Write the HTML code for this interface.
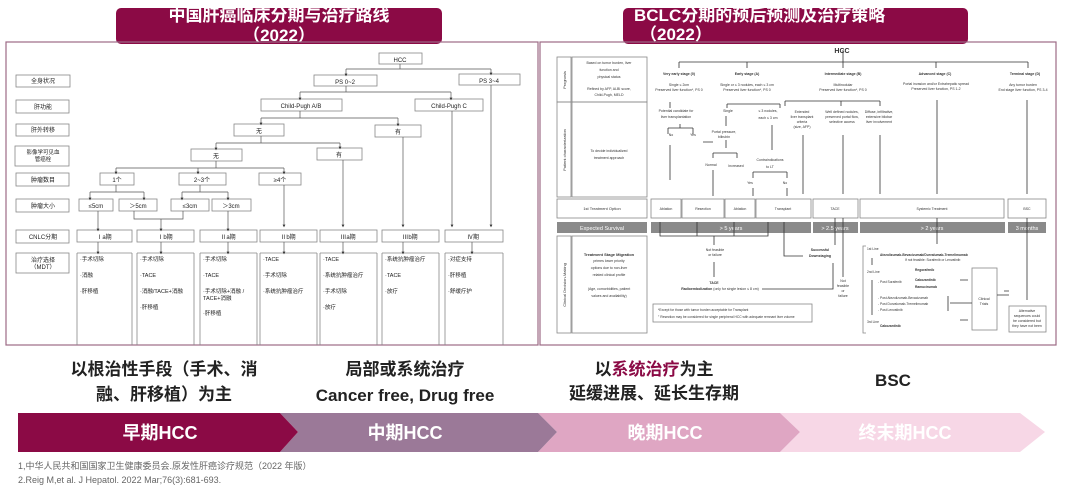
<!DOCTYPE html>
<html><head><meta charset="utf-8"><style>
html,body{margin:0;padding:0;background:#fff;}
svg{display:block;font-family:"Liberation Sans","Noto Sans CJK SC",sans-serif;}
</style></head><body>
<svg width="1080" height="490" viewBox="0 0 1080 490" xmlns="http://www.w3.org/2000/svg">
<defs>
<marker id="a" markerWidth="4" markerHeight="4" refX="2" refY="2" orient="auto"><path d="M0,0 L4,2 L0,4z" fill="#333"/></marker>
</defs>
<rect width="1080" height="490" fill="#fff"/>
<!-- title bars -->
<rect x="116" y="8" width="326" height="36" rx="5" fill="#8b0a45"/>
<text x="279" y="21" font-size="17" font-weight="bold" fill="#fff" text-anchor="middle">中国肝癌临床分期与治疗路线</text>
<text x="279" y="41" font-size="17" font-weight="bold" fill="#fff" text-anchor="middle">（2022）</text>
<rect x="623" y="8" width="345" height="36" rx="5" fill="#8b0a45"/>
<text x="634" y="21" font-size="17" font-weight="bold" fill="#fff">BCLC分期的预后预测及治疗策略</text>
<text x="640" y="40" font-size="17" font-weight="bold" fill="#fff">（2022）</text>
<!-- panels -->
<rect x="6" y="42" width="532" height="303" fill="none" stroke="#9c6a86" stroke-width="1.2"/>
<rect x="540" y="42" width="516" height="303" fill="none" stroke="#9c6a86" stroke-width="1.2"/>

<g font-size="6" fill="#222" stroke="none">
<g fill="none" stroke="#888" stroke-width="0.8">
<rect x="16" y="75" width="54" height="12"/><rect x="16" y="100" width="53" height="13"/>
<rect x="16" y="124" width="53" height="12"/><rect x="15" y="146" width="54" height="20"/>
<rect x="16" y="173" width="53" height="13"/><rect x="16" y="199" width="53" height="13"/>
<rect x="16" y="230" width="53" height="13"/><rect x="16" y="253" width="53" height="20"/>
</g>
<text x="43" y="83" text-anchor="middle">全身状况</text>
<text x="43" y="109" text-anchor="middle">肝功能</text>
<text x="43" y="132" text-anchor="middle">肝外转移</text>
<text x="43" y="154" text-anchor="middle" font-size="5.5">影像学可见血</text>
<text x="43" y="161" text-anchor="middle" font-size="5.5">管癌栓</text>
<text x="43" y="182" text-anchor="middle">肿瘤数目</text>
<text x="43" y="208" text-anchor="middle">肿瘤大小</text>
<text x="43" y="239" text-anchor="middle">CNLC分期</text>
<text x="43" y="262" text-anchor="middle">治疗选择</text>
<text x="43" y="269" text-anchor="middle">（MDT）</text>

<g fill="none" stroke="#888" stroke-width="0.8">
<rect x="379" y="53" width="43" height="11"/>
<rect x="314" y="75" width="63" height="11"/><rect x="459" y="74" width="61" height="11"/>
<rect x="261" y="99" width="81" height="12"/><rect x="415" y="99" width="68" height="12"/>
<rect x="234" y="124" width="50" height="12"/><rect x="375" y="125" width="46" height="12"/>
<rect x="191" y="149" width="51" height="12"/><rect x="317" y="148" width="45" height="12"/>
<rect x="100" y="173" width="34" height="12"/><rect x="179" y="173" width="47" height="12"/><rect x="259" y="173" width="42" height="12"/>
<rect x="79" y="199" width="34" height="12"/><rect x="119" y="199" width="38" height="12"/><rect x="171" y="199" width="38" height="12"/><rect x="212" y="199" width="39" height="12"/>
<rect x="77" y="230" width="55" height="12"/><rect x="137" y="230" width="57" height="12"/><rect x="200" y="230" width="57" height="12"/><rect x="260" y="230" width="57" height="12"/><rect x="320" y="230" width="57" height="12"/><rect x="382" y="230" width="57" height="12"/><rect x="445" y="230" width="58" height="12"/>
<path d="M77 253V345M132 253V345M137 253V345M194 253V345M200 253V345M257 253V345M260 253V345M317 253V345M320 253V345M377 253V345M382 253V345M439 253V345M445 253V345M503 253V345M77 253H132M137 253H194M200 253H257M260 253H317M320 253H377M382 253H439M445 253H503"/>
</g>
<text x="400" y="62" text-anchor="middle">HCC</text>
<text x="345" y="84" text-anchor="middle">PS 0~2</text>
<text x="489" y="83" text-anchor="middle">PS 3~4</text>
<text x="301" y="108" text-anchor="middle">Child-Pugh A/B</text>
<text x="449" y="108" text-anchor="middle">Child-Pugh C</text>
<text x="259" y="133" text-anchor="middle">无</text><text x="398" y="134" text-anchor="middle">有</text>
<text x="216" y="158" text-anchor="middle">无</text><text x="339" y="157" text-anchor="middle">有</text>
<text x="117" y="182" text-anchor="middle">1个</text><text x="202" y="182" text-anchor="middle">2~3个</text><text x="280" y="182" text-anchor="middle">≥4个</text>
<text x="96" y="208" text-anchor="middle">≤5cm</text><text x="138" y="208" text-anchor="middle">＞5cm</text><text x="190" y="208" text-anchor="middle">≤3cm</text><text x="231" y="208" text-anchor="middle">＞3cm</text>
<text x="104" y="239" text-anchor="middle">Ⅰa期</text><text x="165" y="239" text-anchor="middle">Ⅰb期</text><text x="228" y="239" text-anchor="middle">Ⅱa期</text><text x="288" y="239" text-anchor="middle">Ⅱb期</text><text x="348" y="239" text-anchor="middle">Ⅲa期</text><text x="410" y="239" text-anchor="middle">Ⅲb期</text><text x="473" y="239" text-anchor="middle">Ⅳ期</text>

<g font-size="5.5">
<text x="80" y="261">·手术切除</text><text x="80" y="277">·消融</text><text x="80" y="293">·肝移植</text>
<text x="140" y="261">·手术切除</text><text x="140" y="277">·TACE</text><text x="140" y="293">·消融/TACE+消融</text><text x="140" y="309">·肝移植</text>
<text x="203" y="261">·手术切除</text><text x="203" y="277">·TACE</text><text x="203" y="293">·手术切除+消融 /</text><text x="203" y="300">TACE+消融</text><text x="203" y="315">·肝移植</text>
<text x="263" y="261">·TACE</text><text x="263" y="277">·手术切除</text><text x="263" y="293">·系统抗肿瘤治疗</text>
<text x="323" y="261">·TACE</text><text x="323" y="277">·系统抗肿瘤治疗</text><text x="323" y="293">·手术切除</text><text x="323" y="309">·放疗</text>
<text x="385" y="261">·系统抗肿瘤治疗</text><text x="385" y="277">·TACE</text><text x="385" y="293">·放疗</text>
<text x="448" y="261">·对症支持</text><text x="448" y="277">·肝移植</text><text x="448" y="293">·舒缓疗护</text>
</g>
</g>
<g fill="none" stroke="#555" stroke-width="0.7" marker-end="url(#a)">
<path d="M400 64V69M346 69H491" marker-end="none"/>
<path d="M346 69V75"/><path d="M491 69V74"/>
<path d="M346 86V92M300 92H451" marker-end="none"/><path d="M300 92V99"/><path d="M451 92V99"/>
<path d="M300 111V118M261 118H398" marker-end="none"/><path d="M261 118V124"/><path d="M398 118V125"/>
<path d="M261 136V143M216 143H340" marker-end="none"/><path d="M216 143V149"/><path d="M340 143V148"/>
<path d="M216 161V168M116 168H284" marker-end="none"/><path d="M116 168V173"/><path d="M198 168V173"/><path d="M284 168V173"/>
<path d="M116 185V192M90 192H144" marker-end="none"/><path d="M90 192V199"/><path d="M144 192V199"/>
<path d="M200 185V192M182 192H228" marker-end="none"/><path d="M182 192V199"/><path d="M228 192V199"/>
<path d="M98 211V230"/>
<path d="M134 211V219H183V211" marker-end="none"/><path d="M161 219V230"/>
<path d="M228 211V230"/><path d="M284 185V226"/><path d="M343 160V226"/><path d="M403 137V226"/>
<path d="M452 111V226"/><path d="M491 85V226"/>
<path d="M98 242V253"/><path d="M161 242V253"/><path d="M228 242V253"/><path d="M284 242V253"/><path d="M343 242V253"/><path d="M403 242V253"/><path d="M472 242V253"/>
</g>

<!-- right diagram -->
<g fill="none" stroke="#888" stroke-width="0.8">
<rect x="557" y="57" width="14" height="45"/><rect x="572" y="57" width="75" height="45"/>
<rect x="557" y="102" width="14" height="95"/><rect x="572" y="102" width="75" height="95"/>
<rect x="557" y="199" width="90" height="19"/>
<rect x="651" y="199" width="30" height="19"/><rect x="682" y="199" width="42" height="19"/><rect x="725" y="199" width="30" height="19"/><rect x="756" y="199" width="55" height="19"/>
<rect x="813" y="199" width="45" height="19"/><rect x="860" y="199" width="144" height="19"/><rect x="1008" y="199" width="38" height="19"/>
<rect x="557" y="236" width="14" height="97"/><rect x="572" y="236" width="75" height="97"/>
<rect x="653" y="304" width="159" height="18"/>
<rect x="972" y="268" width="25" height="62"/><rect x="1009" y="306" width="37" height="26"/>
<path d="M866 246H863V333H866"/>
</g>
<g fill="#8a8a8a">
<rect x="557" y="222" width="90" height="11"/><rect x="651" y="222" width="160" height="11"/><rect x="813" y="222" width="45" height="11"/><rect x="860" y="222" width="145" height="11"/><rect x="1008" y="222" width="38" height="11"/>
</g>
<g font-size="5.5" fill="#fff" text-anchor="middle">
<text x="602" y="230">Expected Survival</text><text x="731" y="230">&gt; 5 years</text><text x="835" y="230">&gt; 2.5 years</text><text x="932" y="230">&gt; 2 years</text><text x="1027" y="230">3 months</text>
</g>
<g fill="#333" font-size="3.5" text-anchor="middle">
<text x="842" y="53" font-size="7" font-weight="bold">HCC</text>
<text x="0" y="0" transform="translate(566,80) rotate(-90)" font-size="4">Prognosis</text>
<text x="0" y="0" transform="translate(566,150) rotate(-90)" font-size="4">Patient characterization</text>
<text x="0" y="0" transform="translate(566,285) rotate(-90)" font-size="4">Clinical Decision-Making</text>
<text x="609" y="64">Based on tumor burden, liver</text><text x="609" y="71">function and</text><text x="609" y="78">physical status</text><text x="609" y="90">Refined by AFP, ALBI score,</text><text x="609" y="96">Child-Pugh, MELD</text>
<text x="609" y="152">To decide individualized</text><text x="609" y="159">treatment approach</text>
<text x="602" y="210" font-size="4">1st Treatment Option</text>
<text x="666" y="210">Ablation</text><text x="703" y="210">Resection</text><text x="740" y="210">Ablation</text><text x="783" y="210">Transplant</text><text x="835" y="210">TACE</text><text x="932" y="210">Systemic Treatment</text><text x="1027" y="210">BSC</text>
<g font-weight="bold"><text x="679" y="75">Very early stage (0)</text><text x="747" y="75">Early stage (A)</text><text x="843" y="75">Intermediate stage (B)</text><text x="935" y="75">Advanced stage (C)</text><text x="1025" y="75">Terminal stage (D)</text></g>
<text x="679" y="86">Single ≤ 2cm</text><text x="679" y="91">Preserved liver function*, PS 0</text>
<text x="747" y="86">Single or ≤ 3 nodules, each ≤ 3 cm</text><text x="747" y="91">Preserved liver function*, PS 0</text>
<text x="843" y="86">Multinodular</text><text x="843" y="91">Preserved liver function*, PS 0</text>
<text x="936" y="85">Portal invasion and/or Extrahepatic spread</text><text x="936" y="90">Preserved liver function, PS 1-2</text>
<text x="1023" y="86">Any tumor burden</text><text x="1023" y="91">End stage liver function, PS 3-4</text>
<text x="676" y="112">Potential candidate for</text><text x="676" y="118">liver transplantation</text>
<text x="671" y="136">No</text><text x="693" y="136">Yes</text>
<text x="728" y="112">Single</text><text x="768" y="112">≤ 3 nodules,</text><text x="768" y="119">each ≤ 3 cm</text>
<text x="724" y="133">Portal pressure,</text><text x="724" y="138">bilirubin</text>
<text x="711" y="166">Normal</text><text x="736" y="167">Increased</text><text x="770" y="161">Contraindications</text><text x="770" y="168">to LT</text>
<text x="750" y="184">Yes</text><text x="785" y="184">No</text>
<text x="802" y="113">Extended</text><text x="802" y="118">liver transplant</text><text x="802" y="123">criteria</text><text x="802" y="128">(size, AFP)</text>
<text x="842" y="113">Well defined nodules,</text><text x="842" y="118">preserved portal flow,</text><text x="842" y="123">selective access</text>
<text x="879" y="113">Diffuse, infiltrative,</text><text x="879" y="118">extensive bilobar</text><text x="879" y="123">liver involvement</text>
<text x="715" y="251">Not feasible</text><text x="715" y="256">or failure</text>
<text x="820" y="251" font-weight="bold">Successful</text><text x="820" y="257" font-weight="bold">Downstaging</text>
<text x="714" y="284" font-weight="bold">TACE</text><text x="720" y="290"><tspan font-weight="bold">Radioembolization</tspan> (only for single lesion ≤ 8 cm)</text>
<text x="843" y="282">Not</text><text x="843" y="287">feasible</text><text x="843" y="292">or</text><text x="843" y="297">failure</text>
<text x="609" y="256" font-weight="bold" font-size="4">Treatment Stage Migration</text><text x="609" y="262">primes lower priority</text><text x="609" y="269">options due to non-liver</text><text x="609" y="276">related clinical profile</text>
<text x="609" y="290">(Age, comorbidities, patient</text><text x="609" y="297">values and availability)</text>
<text x="984" y="300">Clinical</text><text x="984" y="305">Trials</text>
<text x="1027" y="312">Alternative</text><text x="1027" y="317">sequences could</text><text x="1027" y="322">be considered but</text><text x="1027" y="327">they have not been</text>
</g>
<g fill="#333" font-size="3.3">
<text x="658" y="311">*Except for those with tumor burden acceptable for Transplant</text>
<text x="658" y="318">° Resection may be considered for single peripheral HCC with adequate remnant liver volume</text>
<text x="867" y="250">1st Line</text><text x="880" y="256" font-weight="bold">Atezolizumab-Bevacizumab/Durvalumab-Tremelimumab</text><text x="905" y="261">If not feasible: Sorafenib or Lenvatinib</text>
<text x="867" y="273">2nd Line</text><text x="878" y="283">- Post Sorafenib</text><text x="915" y="271" font-weight="bold">Regorafenib</text><text x="915" y="281" font-weight="bold">Cabozantinib</text><text x="915" y="288" font-weight="bold">Ramucirumab</text>
<text x="878" y="299">- Post Atezolizumab-Bevacizumab</text><text x="878" y="305">- Post Durvalumab-Tremelimumab</text><text x="878" y="311">- Post Lenvatinib</text>
<text x="867" y="323">3rd Line</text><text x="880" y="327" font-weight="bold">Cabozantinib</text>
</g>
<g fill="none" stroke="#333" stroke-width="0.8">
<path d="M679 62H1028M679 62V68M747 62V68M843 58V68M936 62V68M1028 62V68M843 50V58"/>
<path d="M670 102V108M668 128H693M668 128V134M693 128V134M680 124V128"/>
<path d="M670 145V180M713 142H703"/>
<path d="M727 104H780M727 104V108M780 104V108M726 116V126M726 140V148M713 153H737M713 153V158M737 153V158M772 125V150"/>
<path d="M713 170V196M753 172H787M753 172V178M787 172V178M753 188V196M787 188V196M803 135V194"/>
<path d="M785 101H880M785 101V106M841 101V106M880 101V106M843 135V194M880 135V194M937 100V194M1027 100V194"/>
<path d="M660 222V236H768V222M697 222V236M734 222V236M714 236V245"/>
<path d="M784 222V256H803"/><path d="M835 218V245M843 218V277"/>
<path d="M714 262V277M762 289H833V263"/>
<path d="M937 218V244M1027 218V300M1004 291H1009M997 295H1009"/>
<path d="M872 258V265M872 280V315M950 303H972M948 296V311M960 280H968M960 320H968"/>
</g>

<!-- bottom texts -->
<g font-size="17" font-weight="bold" fill="#222" text-anchor="middle">
<text x="164" y="375">以根治性手段（手术、消</text><text x="164" y="400">融、肝移植）为主</text>
<text x="405" y="375">局部或系统治疗</text><text x="405" y="401">Cancer free, Drug free</text>
<text x="654" y="375">以<tspan fill="#8b0a45">系统治疗</tspan>为主</text><text x="654" y="399">延缓进展、延长生存期</text>
<text x="893" y="386">BSC</text>
</g>
<path d="M1020 413 L1045 432 L1020 452 L780 452 L800 432 L780 413z" fill="#f7d7e6"/>
<path d="M780 413 L800 432 L780 452 L538 452 L557 432 L538 413z" fill="#dfa6c3"/>
<path d="M538 413 L557 432 L538 452 L280 452 L298 432 L280 413z" fill="#9b7998"/>
<path d="M280 413 L298 432 L280 452 L18 452 L18 413z" fill="#8b0a45"/>
<g font-size="18" font-weight="bold" fill="#fff" text-anchor="middle">
<text x="160" y="439">早期HCC</text><text x="405" y="439">中期HCC</text><text x="665" y="439">晚期HCC</text><text x="905" y="439">终末期HCC</text>
</g>
<g font-size="9" fill="#666">
<text x="18" y="469">1,中华人民共和国国家卫生健康委员会.原发性肝癌诊疗规范（2022 年版）</text>
<text x="18" y="483">2.Reig M,et al. J Hepatol. 2022 Mar;76(3):681-693.</text>
</g>
</svg>
</body></html>
